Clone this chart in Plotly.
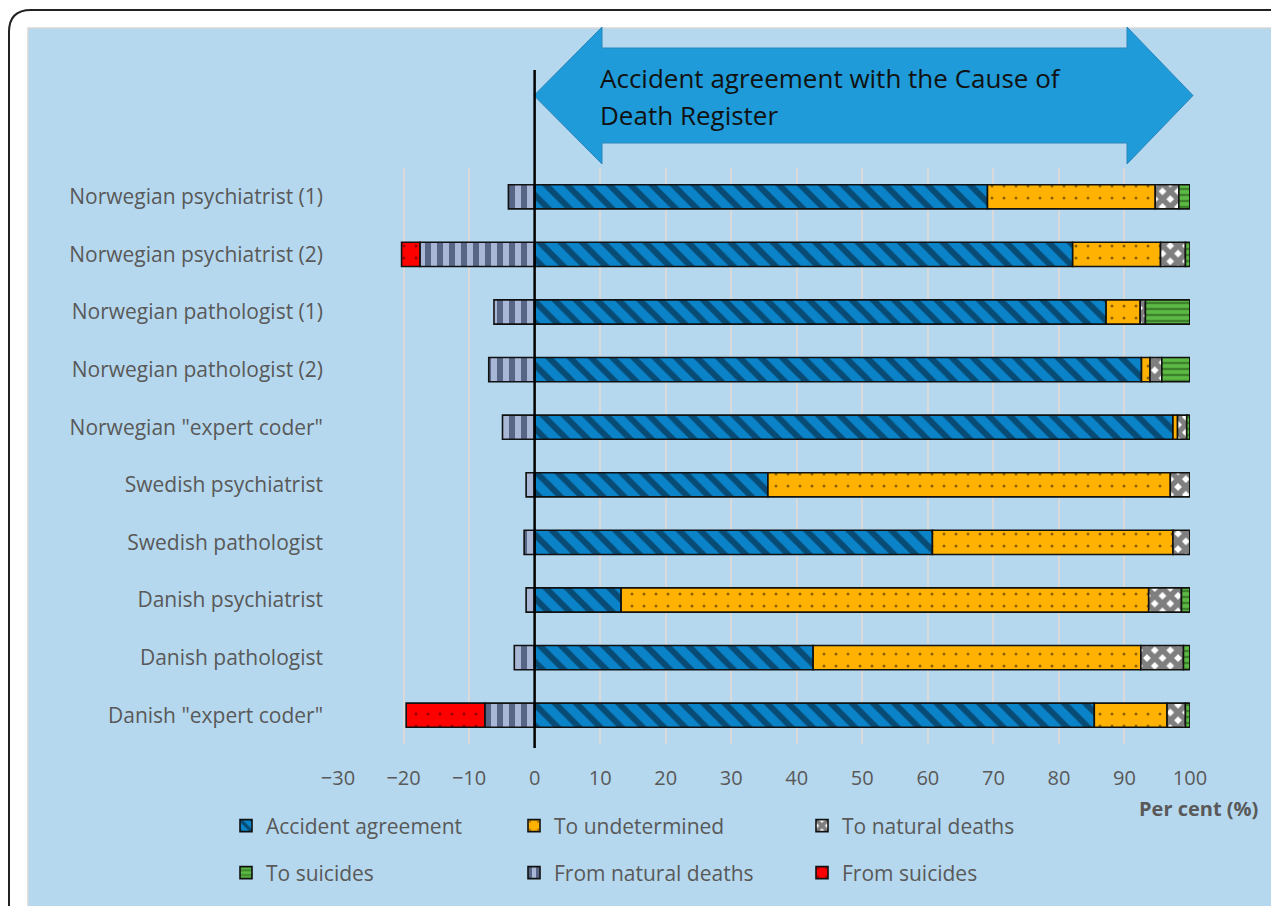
import plotly.graph_objects as go

categories = [
    "Norwegian psychiatrist (1)",
    "Norwegian psychiatrist (2)",
    "Norwegian pathologist (1)",
    "Norwegian pathologist (2)",
    'Norwegian "expert coder"',
    "Swedish psychiatrist",
    "Swedish pathologist",
    "Danish psychiatrist",
    "Danish pathologist",
    'Danish "expert coder"',
]
accident_agreement = [69.1, 82.1, 87.2, 92.6, 97.4, 35.6, 60.7, 13.2, 42.5, 85.4]
to_undetermined = [25.6, 13.4, 5.2, 1.3, 0.7, 61.4, 36.7, 80.5, 50.0, 11.1]
to_natural_deaths = [3.6, 3.8, 0.8, 1.8, 1.4, 3.0, 2.6, 5.0, 6.5, 2.8]
to_suicides = [1.7, 0.7, 6.8, 4.3, 0.5, 0.0, 0.0, 1.3, 1.0, 0.7]
from_natural_deaths = [-4.0, -17.5, -6.2, -7.0, -4.9, -1.3, -1.6, -1.3, -3.1, -7.6]
from_suicides = [0.0, -2.8, 0.0, 0.0, 0.0, 0.0, 0.0, 0.0, 0.0, -12.0]
x_ticks = [-30, -20, -10, 0, 10, 20, 30, 40, 50, 60, 70, 80, 90, 100]

# page body has an 8px margin; figure is sized so it fills the window
W, H = 1271, 898
ML, MR, MT, MB = 330, 89, 160, 162
PW, PH = W - ML - MR, H - MT - MB
SX0, SY1 = 338, 744  # screen position of plot area left / bottom


def px(x):
    return (x - SX0) / PW


def py(y):
    return (SY1 - y) / PH


GRAY = "#595959"
FONT = "Open Sans"

series = [
    ("Accident agreement", accident_agreement, "#0B83C9", "#06131F", "\\", 15, 0.4, "legend"),
    ("To undetermined", to_undetermined, "#FFB202", "#1A1200", ".", 12, 0.05, "legend"),
    ("To natural deaths", to_natural_deaths, "#FFFFFF", "#000000", "x", 11, 0.75, "legend"),
    ("To suicides", to_suicides, "#5CB944", "#1E4A14", "-", 6, 0.4, "legend2"),
    ("From natural deaths", from_natural_deaths, "#A9B7D6", "#071535", "|", 12, 0.5, "legend2"),
    ("From suicides", from_suicides, "#FF0000", "#3A0000", ".", 12, 0.05, "legend2"),
]

fig = go.Figure()
for name, vals, bg, fg, shape, size, sol, leg in series:
    fig.add_trace(go.Bar(
        y=categories, x=vals, name=name, orientation="h",
        marker=dict(color=bg, line=dict(color="#111111", width=1.6),
                    pattern=dict(shape=shape, fgcolor=fg, size=size, solidity=sol, fillmode="overlay")),
        legend=leg,
    ))

shapes = []
# outer rounded frame
r = 22
x0, y0, x1, y1 = 9, 10, 1300, 940
shapes.append(dict(type="path", xref="paper", yref="paper", layer="below",
                   path=f"M {px(x0)},{py(y1)} L {px(x0)},{py(y0+r)} Q {px(x0)},{py(y0)} {px(x0+r)},{py(y0)} L {px(x1)},{py(y0)}",
                   line=dict(color="#222222", width=2)))
# light blue panel
shapes.append(dict(type="rect", xref="paper", yref="paper", layer="below",
                   x0=px(28), x1=px(1272), y0=py(920), y1=py(28),
                   fillcolor="#B5D8EE", line=dict(color="#D6D6D6", width=1.5)))
# double arrow
pts = [(534, 95.5), (602, 27), (602, 48), (1127, 48), (1127, 27), (1193, 95.5),
       (1127, 164), (1127, 143), (602, 143), (602, 164)]
path = "M " + " L ".join(f"{px(a)},{py(b)}" for a, b in pts) + " Z"
shapes.append(dict(type="path", xref="paper", yref="paper", layer="above",
                   path=path, fillcolor="#1E9BD8", line=dict(color="#2A86BC", width=1)))
# zero line
shapes.append(dict(type="line", xref="x", yref="paper", x0=0, x1=0, y0=py(748), y1=py(70),
                   line=dict(color="#000000", width=2.5), layer="above"))

annotations = [
    dict(text="Accident agreement with the Cause of", xref="paper", yref="paper",
         x=px(598), y=py(78), xanchor="left", yanchor="middle", showarrow=False,
         font=dict(family=FONT, size=26, color="#111111")),
    dict(text="Death Register", xref="paper", yref="paper",
         x=px(598), y=py(115), xanchor="left", yanchor="middle", showarrow=False,
         font=dict(family=FONT, size=26, color="#111111")),
    dict(text="<b>Per cent (%)</b>", xref="paper", yref="paper",
         x=px(1198), y=py(808), xanchor="center", yanchor="middle", showarrow=False,
         font=dict(family=FONT, size=20, color=GRAY)),
]

fig.update_layout(
    width=W, height=H,
    margin=dict(l=ML, r=MR, t=MT, b=MB, pad=0),
    paper_bgcolor="white", plot_bgcolor="rgba(0,0,0,0)",
    barmode="relative", bargap=0.58,
    font=dict(family=FONT, size=20, color=GRAY),
    shapes=shapes, annotations=annotations,
    xaxis=dict(range=[-30, 100], tickvals=x_ticks, showgrid=True, gridcolor="#D9D9D9",
               gridwidth=1.5, zeroline=False, showline=False, ticks="",
               tickfont=dict(size=20, color=GRAY), ticklabelstandoff=20),
    yaxis=dict(categoryorder="array", categoryarray=categories[::-1], showgrid=False,
               zeroline=False, showline=False, ticks="", tickfont=dict(size=21, color=GRAY),
               ticklabelstandoff=14),
    legend=dict(orientation="h", x=px(226), y=py(826), xanchor="left", yanchor="middle",
                bgcolor="rgba(0,0,0,0)", font=dict(size=21, color=GRAY),
                entrywidth=243, entrywidthmode="pixels", traceorder="normal"),
    legend2=dict(orientation="h", x=px(226), y=py(873), xanchor="left", yanchor="middle",
                 bgcolor="rgba(0,0,0,0)", font=dict(size=21, color=GRAY),
                 entrywidth=243, entrywidthmode="pixels", traceorder="normal"),
    showlegend=True,
)

fig.write_html("out.html")
